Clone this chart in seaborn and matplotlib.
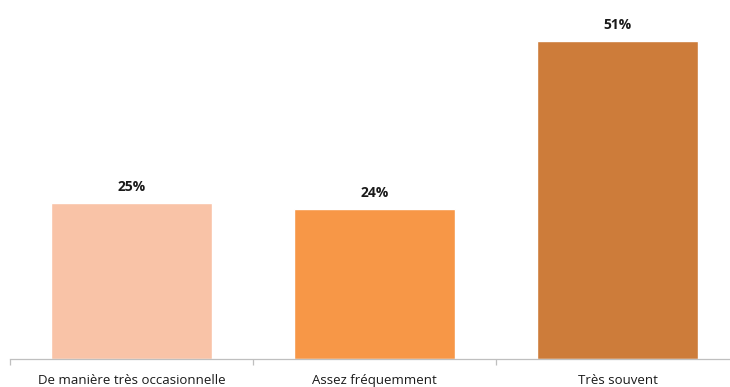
import matplotlib
matplotlib.use("Agg")
import matplotlib.pyplot as plt
import seaborn as sns
import pandas as pd

categories = ["De manière très occasionnelle", "Assez fréquemment", "Très souvent"]
values = [25, 24, 51]
labels = ["25%", "24%", "51%"]
colors = ["#F9C3A7", "#F79747", "#CD7C3A"]

sns.set_theme(style="white")
plt.rcParams['font.family'] = ['Open Sans', 'DejaVu Sans']

df = pd.DataFrame({"cat": categories, "val": values})
fig = plt.figure(figsize=(7.30, 3.87), dpi=100)
ax = fig.add_axes([10/730, 28/387, 729/730, 359/387])
sns.barplot(data=df, x="cat", y="val", hue="cat", palette=colors, width=0.66,
            legend=False, ax=ax, saturation=1)
ax.set_ylim(0, 57.6)
ax.set_xlim(-0.5, 2.5)
for i, (v, t) in enumerate(zip(values, labels)):
    ax.text(i, v + 1.5, t, ha="center", va="bottom", fontsize=10, fontweight="bold", color="#1a1a1a")
for s in ["top", "right", "left"]:
    ax.spines[s].set_visible(False)
ax.spines["bottom"].set_color("#BFBFBF")
ax.spines["bottom"].set_linewidth(0.9)
ax.set_yticks([])
ax.set_xlabel("")
ax.set_ylabel("")
ax.set_xticks([0, 1, 2])
ax.set_xticklabels(categories, fontsize=9.5, color="#1a1a1a")
ax.tick_params(axis="x", which="major", length=0, pad=11)
ax.set_xticks([-0.5, 0.5, 1.5, 2.5], minor=True)
ax.tick_params(axis="x", which="minor", length=4, color="#BFBFBF", width=0.9, bottom=True)
fig.savefig("out.png", dpi=100)
